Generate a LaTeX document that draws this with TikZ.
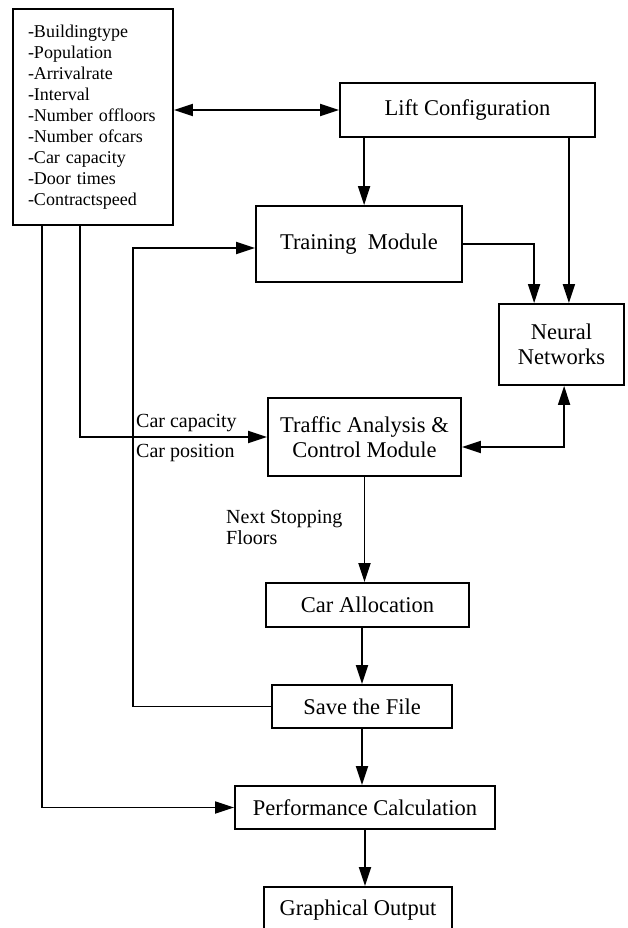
\documentclass[tikz,border=0pt]{standalone}
\usepackage{fontspec}
\setmainfont{Liberation Serif}
\usetikzlibrary{arrows.meta}

\begin{document}
\begin{tikzpicture}[x=1pt,y=-1pt,
    box/.style={draw, line width=1.8pt, inner sep=0pt, font=\fontsize{22.5}{25}\selectfont, align=center},
    lbl/.style={inner sep=0pt, font=\fontsize{20}{21}\selectfont, align=left},
    arr/.style={line width=1.8pt, -{Triangle[length=19pt,width=12pt]}},
    biarr/.style={line width=1.8pt, {Triangle[length=19pt,width=12pt]}-{Triangle[length=19pt,width=12pt]}}]
\useasboundingbox (0,0) rectangle (627,928);
\clip (0,0) rectangle (627,928);

% input data box
\node[box, minimum width=160pt, minimum height=216pt, text width=130pt, inner xsep=15pt,
      align=left, font=\fontsize{18}{21}\selectfont] (input) at (93,117)
    {-Buildingtype\\-Population\\-Arrivalrate\\-Interval\\-Number offloors\\-Number ofcars\\-Car capacity\\-Door times\\-Contractspeed};

% modules
\node[box, minimum width=255pt, minimum height=54pt] (lift) at (467.5,110) {Lift Configuration};
\node[box, minimum width=206pt, minimum height=76pt] (train) at (359,244) {Training\ \ Module};
\node[box, minimum width=125pt, minimum height=81pt] (neural) at (561.5,344.5) {Neural\\Networks};
\node[box, minimum width=193pt, minimum height=78pt] (traffic) at (364.5,437) {Traffic Analysis \&\\Control Module};
\node[box, minimum width=203pt, minimum height=44pt] (alloc) at (367.5,605) {Car Allocation};
\node[box, minimum width=180pt, minimum height=43pt] (save) at (362,706.5) {Save the File};
\node[box, minimum width=260pt, minimum height=43pt] (perf) at (365,807.5) {Performance Calculation};
\node[box, minimum width=188pt, minimum height=46pt] (graph) at (358,910) {Graphical Output};

% labels on the connectors
\node[lbl, anchor=west] (capac) at (136,423) {Car capacity};
\node[lbl, anchor=west] (cpos) at (136,453) {Car position};
\node[lbl, anchor=west] (stops) at (226,527) {Next Stopping\\Floors};

\coordinate (fb) at (133,706.5);

\draw[biarr] (input.east |- lift.west) -- (lift.west);
\draw[arr] ([xshift=25pt]lift.south west) -- ([xshift=25pt]lift.south west |- train.north);
\draw[arr] ([xshift=-27pt]lift.south east) -- ([xshift=-27pt]lift.south east |- neural.north);
\draw[arr] (train.east) -| ([xshift=36pt]neural.north west);
\draw[arr] ([xshift=68pt]input.south west) |- (traffic.west);
\draw[biarr] ([yshift=-10pt]traffic.east) -| ([xshift=66pt]neural.south west);
\draw[arr] (traffic.south) -- (traffic.south |- alloc.north);
\draw[arr] (save.north |- alloc.south) -- (save.north);
\draw[arr] (save.south) -- (save.south |- perf.north);
\draw[arr] (perf.south) -- (perf.south |- graph.north);
\draw[arr] (save.west) -- (fb) |- ([yshift=-4pt]train.west);
\draw[arr] ([xshift=30pt]input.south west) |- (perf.west);
\end{tikzpicture}
\end{document}
